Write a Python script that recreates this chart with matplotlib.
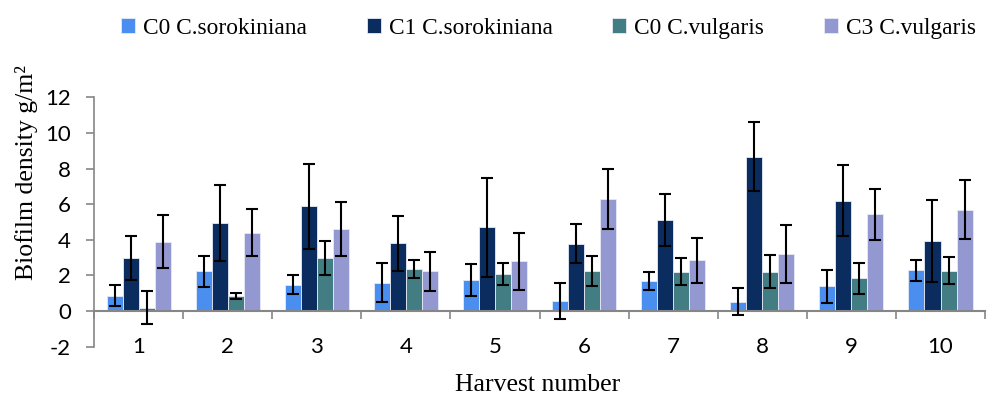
import matplotlib
matplotlib.use("Agg")
import matplotlib.pyplot as plt
import numpy as np

plt.rcParams["axes.unicode_minus"] = False

harvest = [1, 2, 3, 4, 5, 6, 7, 8, 9, 10]
series = ["C0 C.sorokiniana", "C1 C.sorokiniana", "C0 C.vulgaris", "C3 C.vulgaris"]
colors = ["#4A8FEF", "#0B2C5F", "#427D84", "#9498D1"]

c0_soro = [0.87, 2.24, 1.48, 1.60, 1.72, 0.58, 1.70, 0.53, 1.38, 2.28]
c0_soro_err = [0.60, 0.87, 0.55, 1.08, 0.90, 1.00, 0.50, 0.75, 0.94, 0.60]
c1_soro = [2.97, 4.95, 5.87, 3.80, 4.71, 3.78, 5.10, 8.66, 6.20, 3.93]
c1_soro_err = [1.25, 2.15, 2.40, 1.53, 2.77, 1.08, 1.46, 1.93, 1.98, 2.30]
c0_vulg = [0.20, 0.83, 2.98, 2.37, 2.07, 2.24, 2.22, 2.22, 1.83, 2.26]
c0_vulg_err = [0.95, 0.17, 0.98, 0.50, 0.62, 0.85, 0.74, 0.90, 0.86, 0.76]
c3_vulg = [3.90, 4.40, 4.60, 2.24, 2.80, 6.30, 2.84, 3.20, 5.42, 5.68]
c3_vulg_err = [1.50, 1.33, 1.50, 1.10, 1.60, 1.70, 1.26, 1.65, 1.45, 1.65]

means = [c0_soro, c1_soro, c0_vulg, c3_vulg]
errs = [c0_soro_err, c1_soro_err, c0_vulg_err, c3_vulg_err]

fig = plt.figure(figsize=(9.91, 3.97), dpi=100)
ax = fig.add_axes([0.0949, 0.1267, 0.8991, 0.6283])

x = np.array(harvest)
w = 0.18
for i in range(4):
    ax.bar(x + (i - 1.5) * w, means[i], w, color=colors[i], label=series[i],
           edgecolor="#E6EAF5", linewidth=0.6, zorder=2)
    ax.errorbar(x + (i - 1.5) * w, means[i], yerr=errs[i], fmt="none",
                ecolor="black", elinewidth=1.5, capsize=4.3, capthick=1.5, zorder=3)

ax.set_xlim(0.5, 10.5)
ax.set_ylim(-2, 12)
ax.set_yticks(range(-2, 13, 2))
ax.set_xticks(harvest)
ax.set_xticks(np.arange(0.5, 11, 1), minor=True)

for s in ["top", "right"]:
    ax.spines[s].set_visible(False)
ax.spines["bottom"].set_position(("data", 0))
ax.spines["left"].set_color("#868686")
ax.spines["bottom"].set_color("#868686")
ax.spines["left"].set_linewidth(1.2)
ax.spines["bottom"].set_linewidth(1.5)

ax.tick_params(axis="x", which="major", length=0, pad=19)
ax.tick_params(axis="x", which="minor", length=6, width=1.2, color="#868686", direction="out")
ax.tick_params(axis="y", length=5.5, width=1.2, color="#868686", pad=11)
for lab in ax.get_xticklabels() + ax.get_yticklabels():
    lab.set_fontfamily("Lato")
    lab.set_fontsize(16)

fig.text(538 / 991, 1 - 385 / 397, "Harvest number", family="Liberation Serif",
         fontsize=18.5, ha="center", va="center")
fig.text(33 / 991, 1 - 172 / 397, "Biofilm density g/m²", family="Liberation Serif",
         fontsize=18.5, rotation=90, rotation_mode="anchor", ha="center", va="baseline")

fig.legend(loc="center right", bbox_to_anchor=(1.006, 0.928), ncol=4, frameon=False,
           prop={"family": "Liberation Serif", "size": 16.8}, handlelength=0.6,
           handleheight=0.6, handletextpad=0.35, columnspacing=2.55)

fig.savefig("out.png", dpi=100)
